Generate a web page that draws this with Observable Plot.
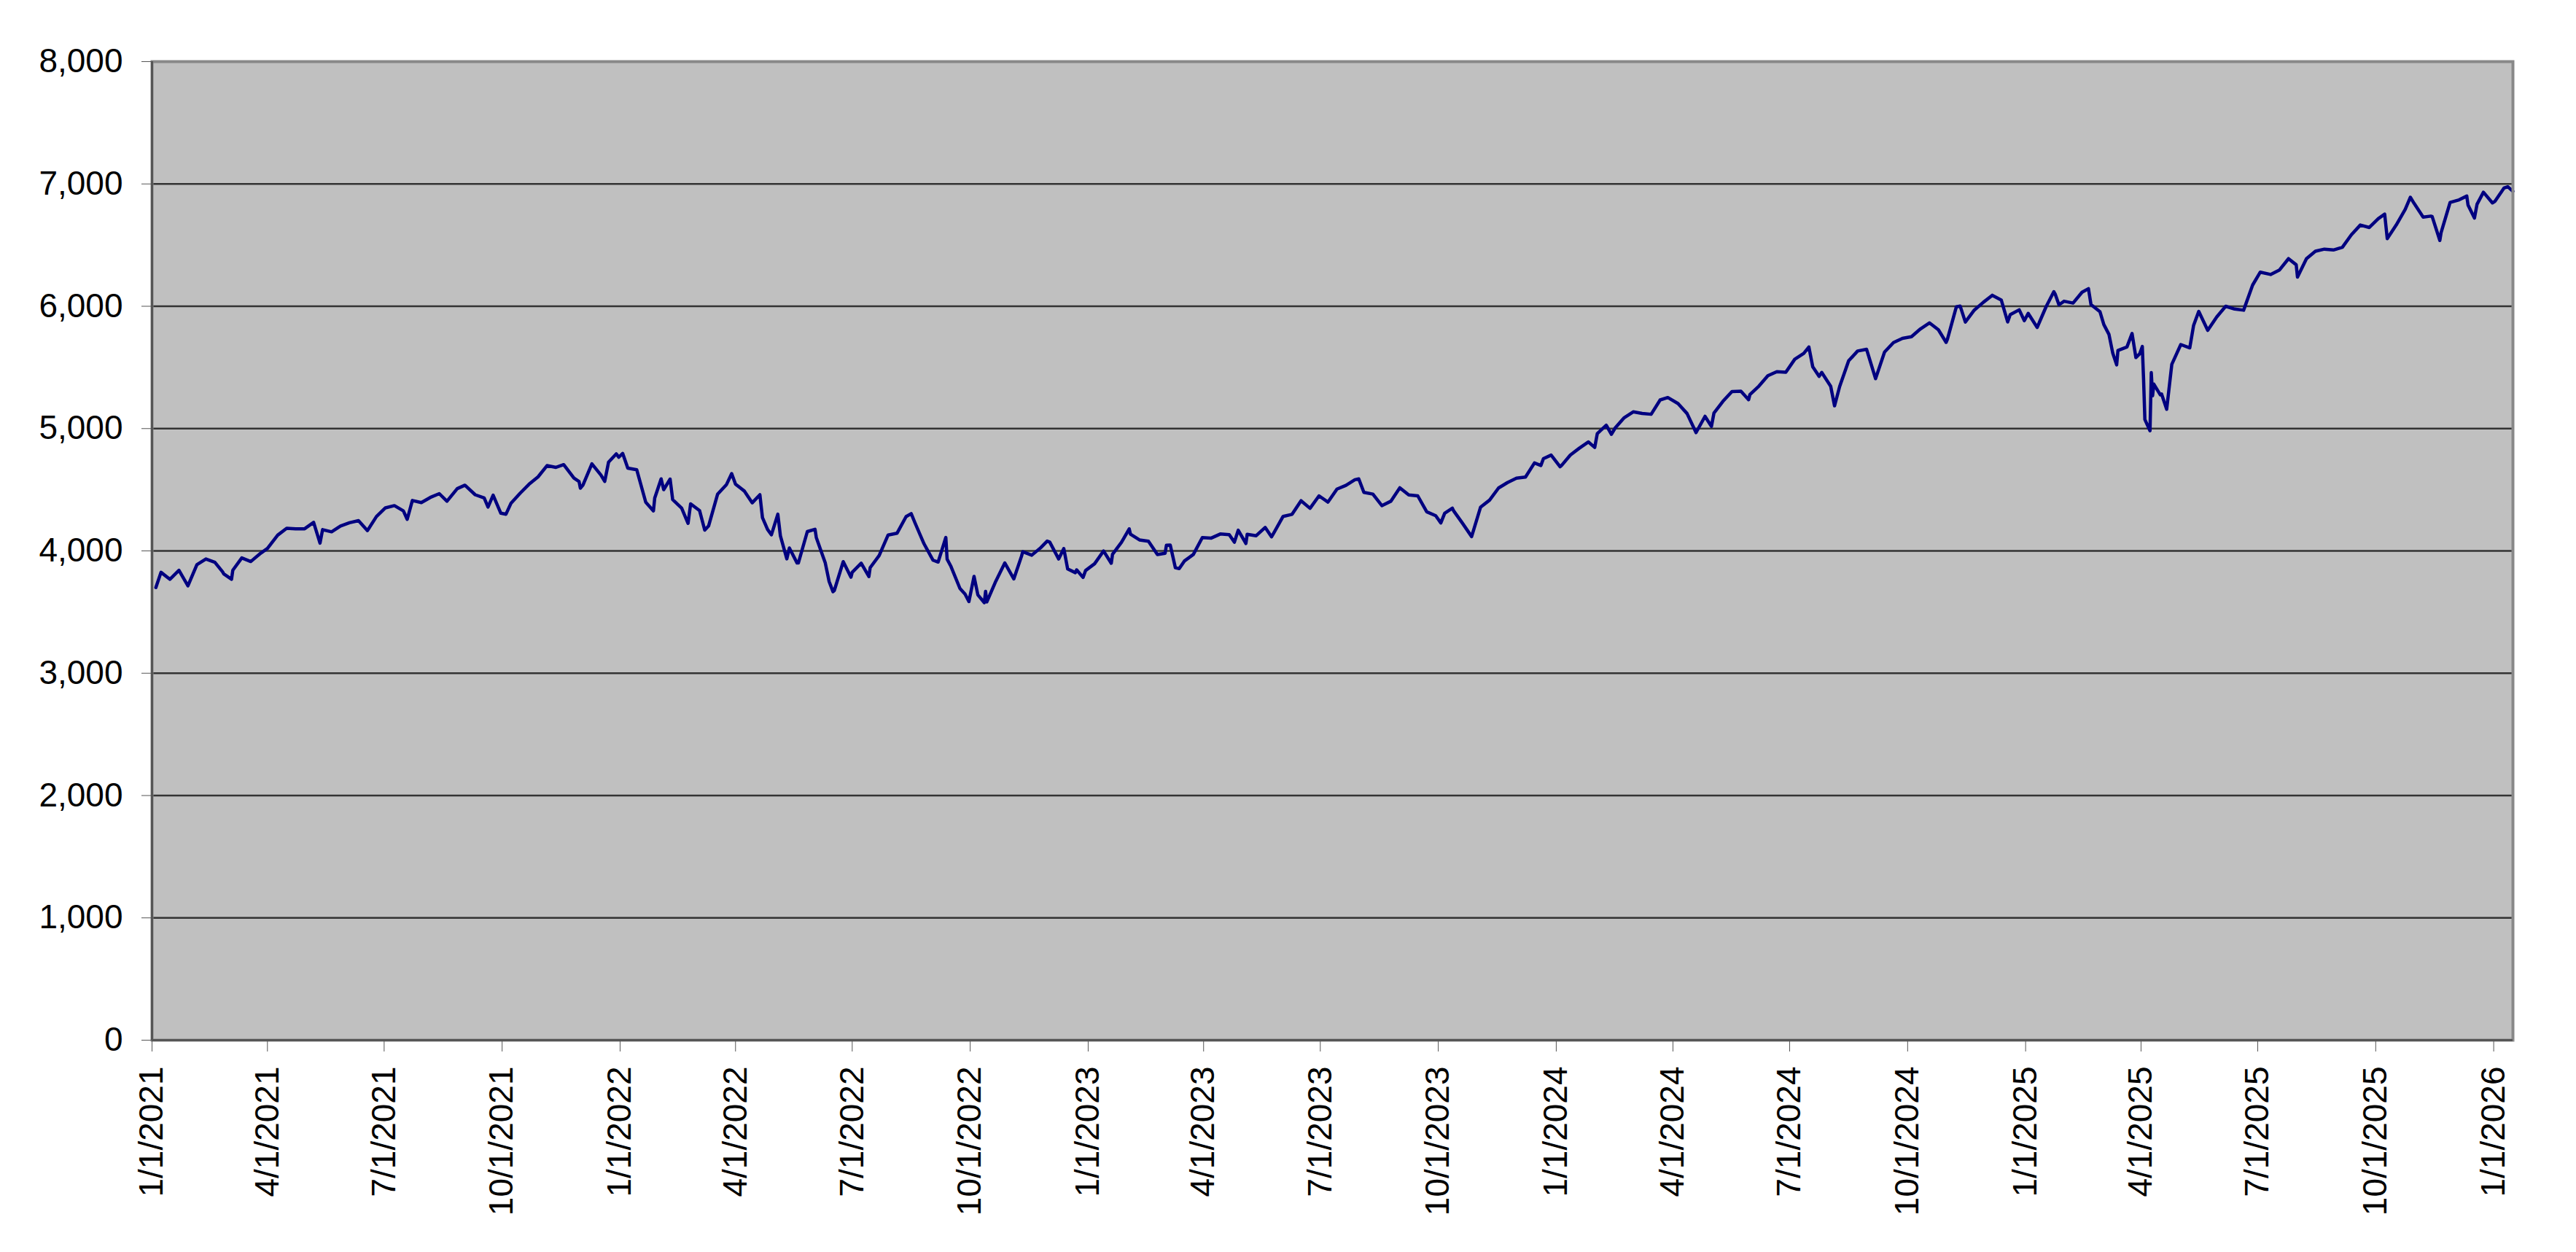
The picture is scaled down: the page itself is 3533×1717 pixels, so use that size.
<!DOCTYPE html>
<html>
<head>
<meta charset="utf-8">
<script src="https://cdn.jsdelivr.net/npm/d3@7"></script>
<script src="https://cdn.jsdelivr.net/npm/@observablehq/plot@0.6"></script>
<style>
  html, body { margin: 0; padding: 0; background: #ffffff; }
  #chart { width: 3533px; height: 1717px; }
</style>
</head>
<body>
<div id="chart"></div>
<script>
// S&P 500 closing values (month-day, close)
const sp2021 = [
  ["01-04",3701],["01-08",3825],["01-15",3768],["01-22",3841],["01-29",3714],["02-05",3887],["02-12",3934],["02-19",3907],["02-25",3829],["02-26",3811],
  ["03-04",3768],["03-05",3842],["03-12",3943],["03-19",3913],["03-26",3975],["04-01",4020],["04-09",4129],["04-16",4185],["04-23",4180],["04-30",4181],
  ["05-07",4233],["05-12",4063],["05-14",4174],["05-21",4156],["05-28",4204],["06-04",4230],["06-11",4247],["06-18",4166],["06-25",4281],["07-02",4352],
  ["07-09",4370],["07-16",4327],["07-19",4258],["07-23",4412],["07-30",4395],["08-06",4437],["08-13",4468],["08-19",4406],["08-27",4509],["09-02",4537],
  ["09-10",4459],["09-17",4433],["09-20",4358],["09-24",4455],["09-30",4308],["10-04",4300],["10-08",4391],["10-15",4471],["10-22",4545],["10-29",4605],
  ["11-05",4697],["11-12",4683],["11-18",4705],["11-26",4595],["11-30",4567],["12-01",4513],["12-03",4538],["12-10",4712],["12-17",4621],["12-20",4568],
  ["12-23",4726],["12-29",4793],["12-31",4766]
];
const sp2022 = [
  ["01-03",4797],["01-07",4677],["01-14",4663],["01-21",4398],["01-27",4327],["01-28",4432],["02-02",4589],["02-04",4501],["02-09",4587],["02-11",4419],
  ["02-18",4349],["02-23",4225],["02-25",4385],["03-04",4329],["03-08",4170],["03-11",4204],["03-18",4463],["03-25",4543],["03-29",4632],["04-01",4546],
  ["04-08",4488],["04-14",4393],["04-20",4459],["04-22",4272],["04-26",4175],["04-29",4132],["05-04",4300],["05-06",4123],["05-11",3935],["05-13",4024],
  ["05-19",3901],["05-20",3901],["05-27",4158],["06-02",4177],["06-03",4109],["06-10",3901],["06-13",3750],["06-16",3667],["06-17",3675],["06-24",3912],
  ["06-30",3785],["07-01",3825],["07-08",3899],["07-14",3790],["07-15",3863],["07-22",3962],["07-29",4130],["08-05",4145],["08-12",4280],["08-16",4305],
  ["08-19",4228],["08-26",4058],["09-02",3924],["09-06",3909],["09-12",4110],["09-13",3932],["09-16",3873],["09-23",3693],["09-27",3647],["09-30",3586],
  ["10-04",3791],["10-07",3640],["10-12",3577],["10-13",3669],["10-14",3583],["10-21",3753],["10-28",3901],["11-04",3771],["11-10",3956],["11-11",3993],
  ["11-18",3965],["11-25",4026],["11-30",4080],["12-02",4072],["12-09",3934],["12-13",4019],["12-16",3852],["12-22",3822],["12-23",3845],["12-28",3783],
  ["12-30",3840]
];
const sp2023 = [
  ["01-06",3895],["01-13",3999],["01-19",3899],["01-20",3973],["01-27",4071],["02-02",4180],["02-03",4136],["02-10",4090],["02-17",4079],["02-24",3970],
  ["03-02",3981],["03-03",4046],["03-06",4048],["03-10",3862],["03-13",3855],["03-17",3917],["03-24",3971],["03-31",4109],["04-07",4105],["04-14",4138],
  ["04-21",4133],["04-25",4071],["04-28",4169],["05-04",4061],["05-05",4136],["05-12",4124],["05-19",4192],["05-24",4115],["05-26",4151],["06-02",4282],
  ["06-09",4299],["06-16",4410],["06-23",4348],["06-30",4450],["07-07",4399],["07-14",4505],["07-21",4536],["07-28",4582],["07-31",4589],["08-04",4478],
  ["08-11",4464],["08-18",4370],["08-25",4406],["09-01",4516],["09-08",4457],["09-15",4450],["09-22",4320],["09-29",4288],["10-03",4229],["10-06",4308],
  ["10-12",4349],["10-13",4327],["10-20",4224],["10-27",4117],["11-03",4358],["11-10",4415],["11-17",4514],["11-24",4559],["12-01",4595],["12-08",4604],
  ["12-15",4719],["12-20",4698],["12-22",4754],["12-28",4783],["12-29",4770]
];
const sp2024 = [
  ["01-04",4688],["01-05",4697],["01-12",4784],["01-19",4840],["01-26",4891],["01-31",4846],["02-02",4959],["02-09",5027],["02-13",4953],["02-16",5006],
  ["02-23",5089],["03-01",5137],["03-08",5124],["03-15",5117],["03-22",5234],["03-28",5254],["04-05",5204],["04-12",5123],["04-19",4967],["04-26",5100],
  ["05-01",5018],["05-03",5128],["05-10",5223],["05-17",5303],["05-24",5305],["05-30",5236],["05-31",5278],["06-07",5347],["06-14",5432],["06-21",5465],
  ["06-28",5460],["07-05",5567],["07-12",5615],["07-16",5667],["07-19",5505],["07-24",5427],["07-26",5459],["08-02",5346],["08-05",5186],["08-09",5344],
  ["08-16",5554],["08-23",5634],["08-30",5648],["09-06",5408],["09-13",5626],["09-20",5703],["09-27",5738],["10-04",5751],["10-11",5815],["10-18",5864],
  ["10-25",5808],["10-31",5705],["11-01",5729],["11-08",5996],["11-11",6001],["11-15",5871],["11-22",5969],["11-29",6032],["12-06",6090],["12-13",6051],
  ["12-18",5872],["12-20",5931],["12-27",5971],["12-31",5882]
];
const sp2025 = [
  ["01-03",5942],["01-10",5827],["01-17",5997],["01-23",6119],["01-24",6101],["01-27",6012],["01-31",6041],["02-07",6026],["02-14",6115],["02-19",6144],
  ["02-21",6013],["02-28",5955],["03-03",5850],["03-07",5770],["03-10",5615],["03-13",5521],["03-14",5639],["03-21",5667],["03-25",5777],["03-28",5581],
  ["03-31",5612],["04-02",5671],["04-03",5397],["04-04",5074],["04-08",4982],["04-09",5457],["04-10",5268],["04-11",5363],["04-16",5276],["04-17",5283],
  ["04-21",5158],["04-25",5525],["05-02",5687],["05-09",5660],["05-12",5844],["05-16",5958],["05-23",5803],["05-30",5912],["06-06",6000],["06-13",5977],
  ["06-20",5968],["06-27",6173],["07-03",6279],["07-11",6260],["07-18",6297],["07-25",6389],["07-31",6339],["08-01",6238],["08-08",6389],["08-15",6450],
  ["08-22",6467],["08-29",6460],["09-05",6482],["09-12",6584],["09-19",6664],["09-26",6644],["10-03",6716],["10-08",6753],["10-10",6553],["10-17",6664],
  ["10-24",6792],["10-28",6891],["10-31",6840],["11-07",6729],["11-13",6737],["11-14",6734],["11-20",6538],["11-21",6603],["11-28",6849],["12-05",6870],
  ["12-11",6901],["12-12",6827],["12-17",6721],["12-19",6834],["12-24",6932],["12-31",6845]
];
const sp2026 = [
  ["01-02",6858],["01-09",6966],["01-12",6977],["01-16",6940]
];

const yTicks = [0, 1000, 2000, 3000, 4000, 5000, 6000, 7000, 8000];
const xTickLabels = [
  "1/1/2021","4/1/2021","7/1/2021","10/1/2021","1/1/2022","4/1/2022","7/1/2022","10/1/2022",
  "1/1/2023","4/1/2023","7/1/2023","10/1/2023","1/1/2024","4/1/2024","7/1/2024","10/1/2024",
  "1/1/2025","4/1/2025","7/1/2025","10/1/2025","1/1/2026"
];
const xStart = "2021-01-01";
const xEnd = "2026-01-16";

// build the table
const years = [[2021, sp2021],[2022, sp2022],[2023, sp2023],[2024, sp2024],[2025, sp2025],[2026, sp2026]];
const data = years.flatMap(([yr, arr]) => arr.map(([md, v]) => ({date: new Date(`${yr}-${md}T00:00:00Z`), value: v})));
const parseTick = d3.utcParse("%m/%d/%Y");
const xTicks = xTickLabels.map(s => parseTick(s));
const fmt = d3.utcFormat("%-m/%-d/%Y");

const chart = Plot.plot({
  width: 3533,
  height: 1717,
  marginTop: 84,
  marginRight: 87,
  marginBottom: 291,
  marginLeft: 208,
  style: {fontFamily: "Arial, 'Liberation Sans', sans-serif", fontSize: "46px", color: "#000", background: "#ffffff"},
  x: {type: "utc", domain: [new Date(xStart + "T00:00:00Z"), new Date(xEnd + "T00:00:00Z")]},
  y: {domain: [0, 8000]},
  marks: [
    Plot.frame({fill: "#C0C0C0", stroke: null}),
    Plot.ruleY(yTicks.filter(d => d > 0 && d < 8000), {stroke: "#333333", strokeWidth: 2.5}),
    Plot.line(data, {x: "date", y: "value", stroke: "#000080", strokeWidth: 4.5, strokeLinejoin: "round"}),
    Plot.frame({stroke: "#888888", strokeWidth: 4}),
    Plot.ruleX([new Date(xStart + "T00:00:00Z")], {stroke: "#555555", strokeWidth: 3}),
    Plot.ruleY([0], {stroke: "#555555", strokeWidth: 3}),
    Plot.axisY({ticks: yTicks, tickFormat: d3.format(","), tickSize: 14, tickPadding: 26, fontSize: 46, stroke: "#555555", fill: "#000", label: null}),
    Plot.axisX({ticks: xTicks, tickFormat: fmt, tickRotate: -90, tickSize: 16, tickPadding: 20, fontSize: 46, stroke: "#555555", fill: "#000", label: null})
  ]
});
document.getElementById("chart").appendChild(chart);
</script>
</body>
</html>
